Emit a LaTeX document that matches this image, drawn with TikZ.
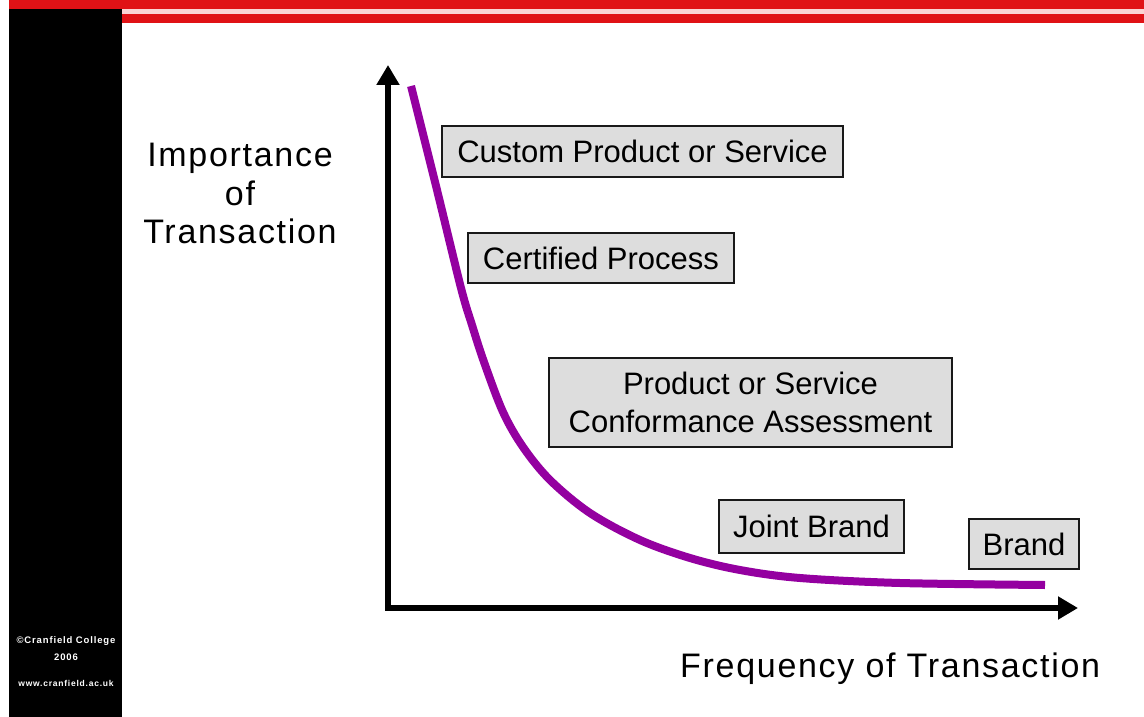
\documentclass[tikz,border=0pt]{standalone}
\usepackage{fontspec}
\setmainfont{Liberation Sans}
\newfontfamily\axisfont[LetterSpace=5]{Liberation Sans}
\newfontfamily\creditfont[LetterSpace=9]{Liberation Sans}
\usetikzlibrary{arrows.meta}
\definecolor{slidered}{RGB}{224,18,22}
\definecolor{slidepink}{RGB}{250,212,212}
\definecolor{curvepurple}{RGB}{148,0,160}
\definecolor{boxgray}{RGB}{221,221,221}
\begin{document}
\begin{tikzpicture}[x=1pt,y=-1pt,
  box/.style={draw=black!90, line width=1.5pt, fill=boxgray, inner sep=0pt, align=center, font=\fontsize{31}{38}\selectfont},
  axislabel/.style={inner sep=0pt, align=center, font=\axisfont\fontsize{34}{38.5}\selectfont},
  axisline/.style={line width=6pt, line join=miter, {Triangle[length=20pt,width=22pt]}-{Triangle[length=20pt,width=22pt]}},
  curveline/.style={line width=8pt, curvepurple},
  credit/.style={text=white, inner sep=0pt, align=center, font=\creditfont\fontsize{9.5}{17}\selectfont\bfseries}]
\useasboundingbox (0,0) rectangle (1144,717);
\fill[white] (0,0) rectangle (1144,717);
\fill[slidered] (9,0) rectangle (1144,9.5);
\fill[slidepink] (122,9.5) rectangle (1144,14);
\fill[slidered] (122,14) rectangle (1144,23);
\fill[black] (9,9.5) rectangle (122,717);

% axes
\coordinate (ytop) at (388,65);
\coordinate (origin) at (388,608);
\coordinate (xend) at (1078,608);
\draw[axisline] (ytop) -- (origin) -- (xend);

% curve
\draw[curveline] plot[smooth, tension=0.55] coordinates {(411,86) (437,190) (461,288) (472,325) (484,362) (503,412) (523,447) (550,480) (590,513) (640,540) (690,558) (740,570) (800,578) (900,583) (1045,585)};

% boxes
\node[box, minimum width=401pt, minimum height=51pt] (custom) at (642.5,151.5) {Custom Product or Service};
\node[box, minimum width=266pt, minimum height=50pt] (certified) at (601,258) {Certified Process};
\node[box, minimum width=403pt, minimum height=89pt] (conformance) at (750.5,402.5) {Product or Service\\Conformance Assessment};
\node[box, minimum width=185pt, minimum height=53pt] (joint) at (811.5,526.5) {Joint Brand};
\node[box, minimum width=110pt, minimum height=50pt] (brand) at (1024,544) {Brand};

% axis labels
\node[axislabel] (ylabel) at (240,193.5) {Importance\\of\\Transaction};
\node[axislabel, anchor=base west] (xlabel) at (680,677) {Frequency of Transaction};

% credit
\node[credit] (creditnote) at (66,662) {©Cranfield College\\2006\\[9pt]{\fontsize{8.5}{17}\selectfont www.cranfield.ac.uk}};
\end{tikzpicture}
\end{document}
